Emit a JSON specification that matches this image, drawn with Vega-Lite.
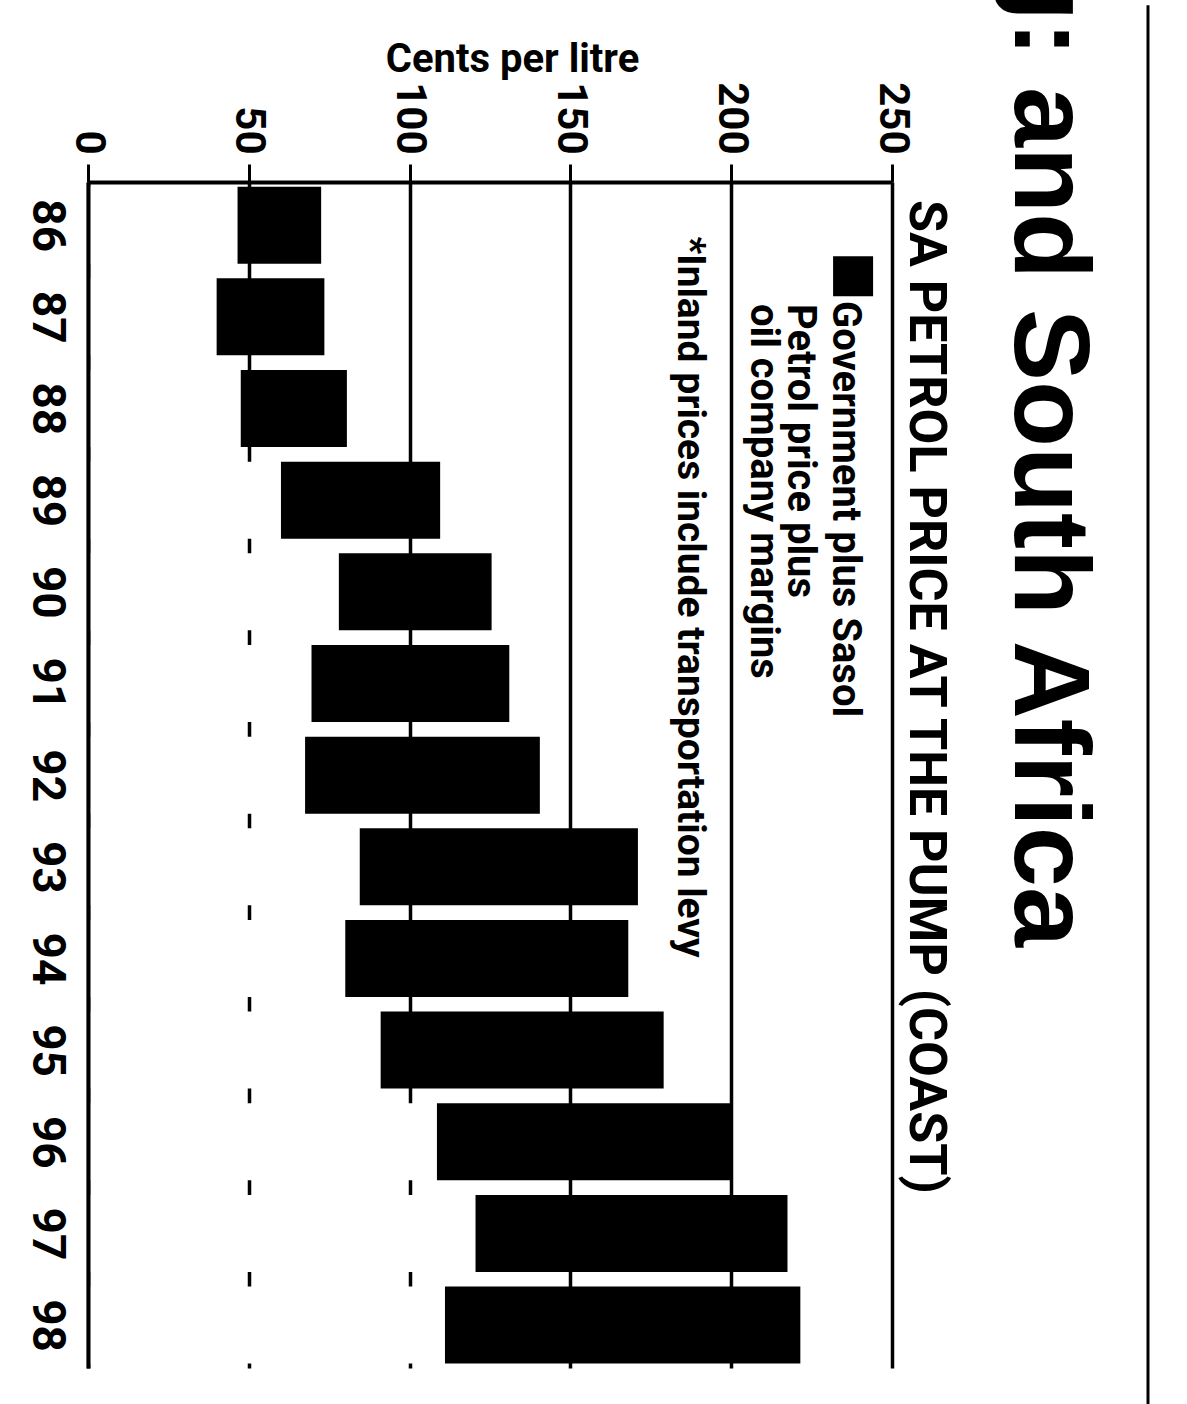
{
  "$schema": "https://vega.github.io/schema/vega-lite/v6.json",
  "width": 804,
  "height": 1186,
  "autosize": "none",
  "padding": {"left": 88, "top": 182, "right": 295, "bottom": 36},
  "background": "white",
  "config": {"font": "Roboto", "view": {"stroke": null}},
  "title": {
    "text": "g: and South Africa",
    "orient": "right",
    "anchor": "end",
    "frame": "group",
    "font": "Liberation Sans",
    "fontSize": 108,
    "fontWeight": "bold",
    "color": "black",
    "offset": -157,
    "dx": -421
  },
  "data": {
    "values": [
      {"year": 86, "component": "Petrol price plus oil company margins", "cents": 46.5},
      {"year": 86, "component": "Government plus Sasol", "cents": 26},
      {"year": 87, "component": "Petrol price plus oil company margins", "cents": 40},
      {"year": 87, "component": "Government plus Sasol", "cents": 33.5},
      {"year": 88, "component": "Petrol price plus oil company margins", "cents": 47.5},
      {"year": 88, "component": "Government plus Sasol", "cents": 33},
      {"year": 89, "component": "Petrol price plus oil company margins", "cents": 60},
      {"year": 89, "component": "Government plus Sasol", "cents": 49.5},
      {"year": 90, "component": "Petrol price plus oil company margins", "cents": 78},
      {"year": 90, "component": "Government plus Sasol", "cents": 47.5},
      {"year": 91, "component": "Petrol price plus oil company margins", "cents": 69.5},
      {"year": 91, "component": "Government plus Sasol", "cents": 61.5},
      {"year": 92, "component": "Petrol price plus oil company margins", "cents": 67.5},
      {"year": 92, "component": "Government plus Sasol", "cents": 73},
      {"year": 93, "component": "Petrol price plus oil company margins", "cents": 84.5},
      {"year": 93, "component": "Government plus Sasol", "cents": 86.5},
      {"year": 94, "component": "Petrol price plus oil company margins", "cents": 80},
      {"year": 94, "component": "Government plus Sasol", "cents": 88},
      {"year": 95, "component": "Petrol price plus oil company margins", "cents": 91},
      {"year": 95, "component": "Government plus Sasol", "cents": 88},
      {"year": 96, "component": "Petrol price plus oil company margins", "cents": 108.5},
      {"year": 96, "component": "Government plus Sasol", "cents": 91.5},
      {"year": 97, "component": "Petrol price plus oil company margins", "cents": 120.5},
      {"year": 97, "component": "Government plus Sasol", "cents": 97},
      {"year": 98, "component": "Petrol price plus oil company margins", "cents": 111},
      {"year": 98, "component": "Government plus Sasol", "cents": 110.5}
    ]
  },
  "layer": [
    {
      "mark": {"type": "bar", "orient": "horizontal", "size": 77},
      "encoding": {
        "y": {
          "field": "year",
          "type": "quantitative",
          "scale": {"domain": [85.5835, 98.4135], "reverse": true, "nice": false, "zero": false},
          "axis": {
            "orient": "left",
            "values": [86, 87, 88, 89, 90, 91, 92, 93, 94, 95, 96, 97, 98],
            "format": "d",
            "title": null,
            "labelAngle": 90,
            "labelAlign": "center",
            "labelBaseline": "top",
            "labelFontSize": 46,
            "labelFontWeight": "bold",
            "labelColor": "black",
            "labelPadding": 20,
            "labelFlush": false,
            "labelOverlap": false,
            "ticks": false,
            "grid": false,
            "domainColor": "black",
            "domainWidth": 4,
            "zindex": 1
          }
        },
        "x": {
          "field": "cents",
          "type": "quantitative",
          "stack": "zero",
          "scale": {"domain": [0, 250], "nice": false},
          "axis": {
            "orient": "top",
            "values": [0, 50, 100, 150, 200, 250],
            "title": "Cents per litre",
            "titleAngle": 0,
            "titleFontSize": 40,
            "titleFontWeight": "bold",
            "titleColor": "black",
            "titleX": 424,
            "titleY": -111,
            "titleAlign": "center",
            "titleBaseline": "alphabetic",
            "labelAngle": 90,
            "labelAlign": "right",
            "labelBaseline": "middle",
            "labelFontSize": 42,
            "labelFontWeight": "bold",
            "labelColor": "black",
            "labelPadding": 10,
            "labelFlush": false,
            "labelOverlap": false,
            "tickSize": 18,
            "tickWidth": 3,
            "tickColor": "black",
            "domainColor": "black",
            "domainWidth": 4,
            "grid": true,
            "gridColor": "black",
            "gridWidth": 3.5,
            "zindex": 0
          }
        },
        "color": {
          "field": "component",
          "type": "nominal",
          "scale": {"domain": ["Petrol price plus oil company margins", "Government plus Sasol"], "range": ["white", "black"]},
          "legend": null
        },
        "order": {"field": "component", "sort": "descending"}
      }
    },
    {
      "data": {"values": [{}]},
      "mark": {"type": "rule", "color": "black", "strokeWidth": 3},
      "encoding": {
        "x": {"datum": 329.6, "type": "quantitative"},
        "y": {"datum": 83.6, "type": "quantitative"},
        "y2": {"datum": 98.9}
      }
    },
    {
      "data": {"values": [{}]},
      "mark": {"type": "point", "shape": "square", "filled": true, "color": "black", "size": 1600, "opacity": 1},
      "encoding": {
        "x": {"datum": 237.9, "type": "quantitative"},
        "y": {"datum": 86.557, "type": "quantitative"}
      }
    },
    {
      "data": {"values": [{}]},
      "mark": {"type": "text", "angle": 90, "align": "left", "baseline": "alphabetic", "fontSize": 52, "fontWeight": "bold", "color": "black"},
      "encoding": {
        "x": {"datum": 255.5, "type": "quantitative"},
        "y": {"datum": 85.724, "type": "quantitative"},
        "text": {"value": "SA PETROL PRICE AT THE PUMP (COAST)"}
      }
    },
    {
      "data": {"values": [{}]},
      "mark": {"type": "text", "angle": 90, "align": "left", "baseline": "alphabetic", "fontSize": 40, "fontWeight": "bold", "color": "black"},
      "encoding": {
        "x": {"datum": 231.7, "type": "quantitative"},
        "y": {"datum": 86.827, "type": "quantitative"},
        "text": {"value": "Government plus Sasol"}
      }
    },
    {
      "data": {"values": [{}]},
      "mark": {"type": "text", "angle": 90, "align": "left", "baseline": "alphabetic", "fontSize": 40, "fontWeight": "bold", "color": "black", "lineHeight": 37},
      "encoding": {
        "x": {"datum": 217.7, "type": "quantitative"},
        "y": {"datum": 86.86, "type": "quantitative"},
        "text": {"value": ["Petrol price plus", "oil company margins"]}
      }
    },
    {
      "data": {"values": [{}]},
      "mark": {"type": "text", "angle": 90, "align": "left", "baseline": "alphabetic", "fontSize": 39, "fontWeight": "bold", "color": "black"},
      "encoding": {
        "x": {"datum": 183.5, "type": "quantitative"},
        "y": {"datum": 86.124, "type": "quantitative"},
        "text": {"value": "*Inland prices include transportation levy"}
      }
    }
  ]
}
